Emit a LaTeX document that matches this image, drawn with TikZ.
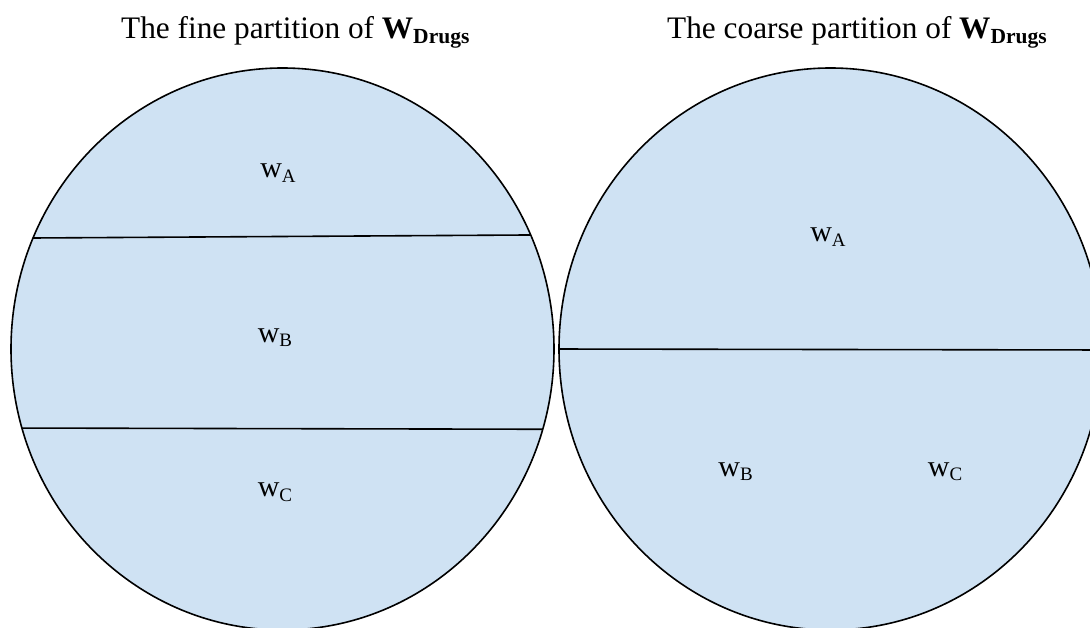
\documentclass[tikz,border=0pt]{standalone}
\usepackage{fontspec}
\setmainfont{Liberation Serif}
\usetikzlibrary{shapes.geometric}
\definecolor{cellblue}{HTML}{CFE2F3}
\definecolor{edge}{HTML}{000000}
% world label w with an index, and the bold W_Drugs
\newcommand{\wsub}[1]{w\raisebox{-4.5pt}{\fontsize{19}{19}\selectfont #1}}
\newcommand{\Wdrugs}{\textbf{W\raisebox{-5.5pt}{\fontsize{21.5}{21.5}\selectfont Drugs}}}

\begin{document}
\begin{tikzpicture}[x=1pt,y=-1pt,
    world/.style={ellipse,draw=edge,fill=cellblue,line width=1.6pt,minimum width=543pt,minimum height=562pt,inner sep=0pt},
    cut/.style={draw=edge,line width=1.6pt},
    cell/.style={anchor=base,inner sep=0pt,font=\fontsize{30}{30}\selectfont},
    heading/.style={anchor=base west,inner sep=0pt,font=\fontsize{31.3}{31.3}\selectfont}]
  \clip (0,0) rectangle (1090,628);
  % titles
  \node[heading] (fineTitle) at (121,38.5) {The fine partition of \Wdrugs};
  \node[heading] (coarseTitle) at (667,38.5) {The coarse partition of \Wdrugs};
  % the two sets of worlds
  \node[world] (fine) at (282.5,349) {};
  \node[world] (coarse) at (830.5,349) {};
  \begin{scope}
    \clip (fine.center) ellipse [x radius=271.5pt,y radius=281pt];
    \draw[cut] (0,238.2) -- (560,234.8);
    \draw[cut] (0,428) -- (560,429.3);
  \end{scope}
  \begin{scope}
    \clip (coarse.center) ellipse [x radius=271.5pt,y radius=281pt];
    \draw[cut] (550,349) -- (1110,350);
  \end{scope}
  % cells
  \foreach \nm/\x/\y/\lbl in {fA/278/178/A,fB/275/342/B,fC/275/496.5/C,cA/828/242/A,cB/735.5/476/B,cC/945/476/C}{
    \node[cell] (\nm) at (\x,\y) {\wsub{\lbl}};}
\end{tikzpicture}
\end{document}
